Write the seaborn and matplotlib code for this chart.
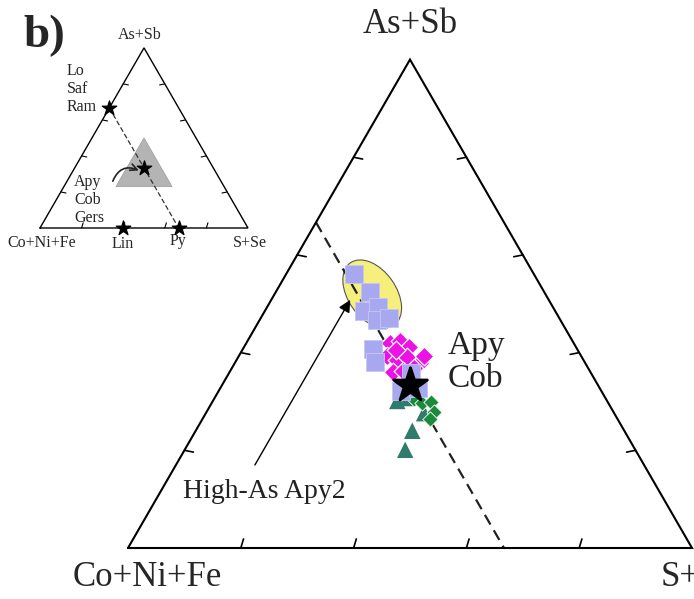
import numpy as np
import pandas as pd
import matplotlib
matplotlib.use("Agg")
import matplotlib.pyplot as plt
import seaborn as sns
from matplotlib.patches import Ellipse, Polygon

# Ternary data in percent: As+Sb (top), S+Se (right), Co+Ni+Fe (left, remainder)
sq_as = [56.1, 52.4, 48.5, 49.3, 46.7, 47.1, 40.7, 38.1, 35.8, 32.1, 32.8]
sq_s = [12.0, 16.7, 17.6, 19.7, 20.8, 22.7, 23.1, 24.7, 32.3, 32.3, 35.0]

mag_as = [42.0, 42.4, 41.2, 39.3, 38.5, 39.1, 37.9, 39.3, 36.0, 36.2, 36.9, 40.5]
mag_s = [25.5, 27.0, 29.2, 26.2, 28.5, 29.9, 32.9, 32.8, 29.0, 30.7, 32.3, 27.2]

tri_as = [30.1, 27.6, 24.0, 20.1, 30.7]
tri_s = [32.7, 38.7, 38.4, 39.1, 34.3]

grn_as = [30.5, 29.7, 29.9, 27.8, 26.4]
grn_s = [35.4, 37.3, 38.8, 40.4, 40.3]

# ideal compositions
apy = (100 / 3, 100 / 3)       # arsenopyrite / cobaltite
ram = (200 / 3, 0.0)           # rammelsbergite-type, on As+Sb - Co+Ni+Fe side
py = (0.0, 200 / 3)            # pyrite
lin = (0.0, 40.0)              # linnaeite as placed on the inset

# grey field of the inset (As+Sb, S+Se)
field_as = [50.0, 23.0, 23.0]
field_s = [25.0, 25.0, 52.0]

H = np.sqrt(3) / 2


def tern(a, s):
    a = np.asarray(a, dtype=float) / 100
    s = np.asarray(s, dtype=float) / 100
    return s + a / 2, a * H


def frame(ax, lw, tick_len):
    ax.plot([0, 1, 0.5, 0], [0, 0, H, 0], color="black", lw=lw,
            solid_joinstyle="miter", clip_on=False, zorder=3)
    for f in [0.2, 0.4, 0.6, 0.8]:
        # base
        ax.plot([f, f + tick_len * 0.3], [0, tick_len], color="black", lw=lw * 0.8)
        # left side
        xl, yl = f / 2, f * H
        ax.plot([xl, xl + tick_len], [yl, yl - tick_len * 0.2], color="black", lw=lw * 0.8)
        # right side
        xr, yr = 1 - f / 2, f * H
        ax.plot([xr, xr - tick_len], [yr, yr - tick_len * 0.2], color="black", lw=lw * 0.8)


def points(ax, a_vals, s_vals, **kw):
    x, y = tern(a_vals, s_vals)
    df = pd.DataFrame({"x": x, "y": y})
    sns.scatterplot(data=df, x="x", y="y", ax=ax, legend=False, **kw)


sns.set_theme(style="white")
plt.rcParams["font.family"] = ["Liberation Serif", "DejaVu Serif"]

fig = plt.figure(figsize=(6.94, 5.99), dpi=100)

# ---- main diagram ----
ax = fig.add_axes([0, 0, 1, 1])
ax.set_xlim(-128 / 564, 566 / 564)
ax.set_ylim(-51 / 564, 548 / 564)
ax.axis("off")

frame(ax, 1.5, 0.016)

# dashed Ram - Py join
x0, y0 = tern(*ram)
x1, y1 = tern(*py)
ax.plot([x0, x1], [y0, y1], color="#222222", lw=1.6, dashes=(5, 3), zorder=2)

# high-As field
cx, cy = tern(52.0, 17.3)
ax.add_patch(Ellipse((cx, cy), width=0.135, height=0.085, angle=-55,
                     facecolor="#f7ef7c", edgecolor="#555555", lw=0.8, zorder=1))

points(ax, tri_as, tri_s, marker="^", s=140, color="#2f7b6c", edgecolor="none", zorder=4)
points(ax, grn_as, grn_s, marker="D", s=60, color="#1b8a3c", edgecolor="white",
       linewidth=0.6, zorder=5)
points(ax, mag_as, mag_s, marker="D", s=90, color="#ee11e6", edgecolor="white",
       linewidth=0.9, zorder=5)
points(ax, sq_as, sq_s, marker="s", s=150, color="#a8a8f0", edgecolor="#c6c6f8",
       linewidth=0.6, zorder=6)
points(ax, [apy[0]], [apy[1]], marker="*", s=650, color="black", edgecolor="black",
       zorder=7)

# arrow + label
tx, ty = tern(17.0, 14.0)
hx, hy = tern(50.8, 14.0)
ax.annotate("", xy=(hx, hy), xytext=(tx, ty),
            arrowprops=dict(arrowstyle="-|>", color="black", lw=1.0,
                            mutation_scale=18, shrinkA=0, shrinkB=0))
ax.text(0.0975, 0.101, "High-As Apy2", fontsize=20, color="#222222",
        ha="left", va="center")
ax.text(0.567, 0.330, "Apy\nCob", fontsize=24, color="#222222",
        ha="left", va="center", linespacing=1.1)

ax.text(0.5, 0.929, "As+Sb", fontsize=25, ha="center", va="center")
ax.text(0.034, -0.053, "Co+Ni+Fe", fontsize=25, ha="center", va="center")
ax.text(1.01, -0.053, "S+Se", fontsize=25, ha="center", va="center")

# ---- inset diagram ----
ins = fig.add_axes([0, 1 - 260 / 599, 280 / 694, 260 / 599])
ins.set_xlim(-40 / 208, 240 / 208)
ins.set_ylim(-32 / 208, 228 / 208)
ins.patch.set_alpha(0)
ins.axis("off")

frame(ins, 1.0, 0.025)

fx, fy = tern(field_as, field_s)
ins.add_patch(Polygon(np.column_stack([fx, fy]), closed=True,
                      facecolor="#b4b4b4", edgecolor="#999999", lw=0.5, zorder=1))

ins.plot([x0, x1], [y0, y1], color="#333333", lw=0.9, dashes=(4, 2), zorder=2)

st_a = [ram[0], py[0], lin[0], apy[0]]
st_s = [ram[1], py[1], lin[1], apy[1]]
points(ins, st_a, st_s, marker="*", s=120, color="black", edgecolor="black", zorder=5)

ax_x, ax_y = tern(*apy)
ins.annotate("", xy=(ax_x - 0.025, ax_y - 0.012), xytext=(0.35, 0.225),
             arrowprops=dict(arrowstyle="->", color="#222222", lw=1.2,
                             connectionstyle="arc3,rad=-0.5", shrinkA=0, shrinkB=0))

fs = 11.5
ins.text(0.02, 0.925, "b)", fontsize=34, fontweight="bold", ha="center", va="center")
ins.text(0.48, 0.928, "As+Sb", fontsize=fs, ha="center", va="center")
ins.text(0.13, 0.668, "Lo\nSaf\nRam", fontsize=fs, ha="left", va="center", linespacing=1.15)
ins.text(0.163, 0.135, "Apy\nCob\nGers", fontsize=fs, ha="left", va="center", linespacing=1.15)
ins.text(0.01, -0.072, "Co+Ni+Fe", fontsize=fs, ha="center", va="center")
ins.text(0.40, -0.077, "Lin", fontsize=fs, ha="center", va="center")
ins.text(0.663, -0.062, "Py", fontsize=fs, ha="center", va="center")
ins.text(1.01, -0.072, "S+Se", fontsize=fs, ha="center", va="center")

fig.savefig("out.png", dpi=100)
